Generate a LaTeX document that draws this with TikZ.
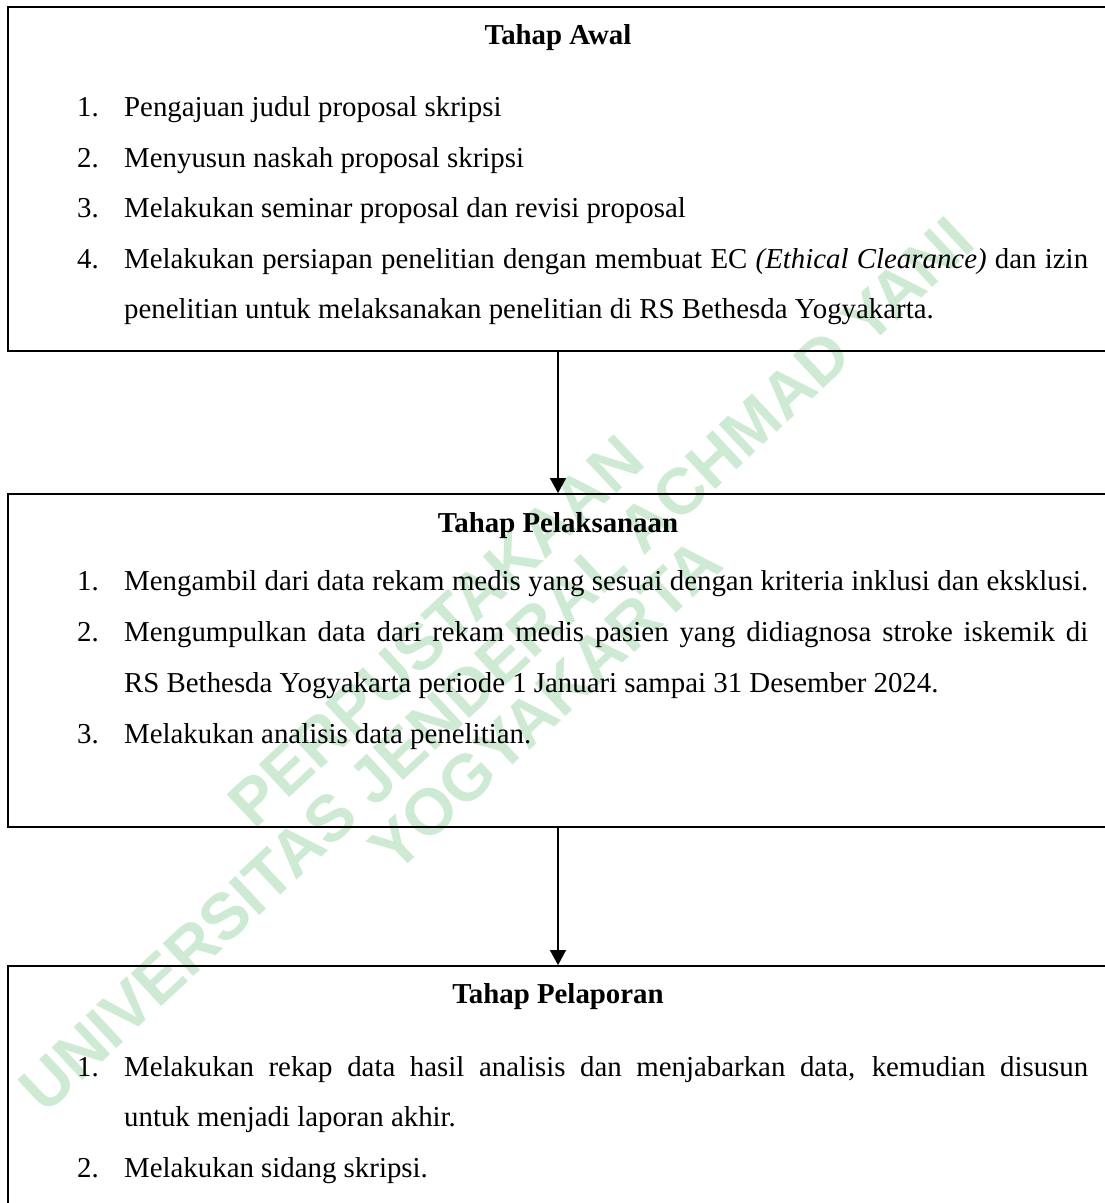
\documentclass[tikz,border=0pt]{standalone}
\usepackage{fontspec}
\setmainfont{Liberation Serif}
\newfontfamily\wmfont{Liberation Sans}
\usetikzlibrary{arrows.meta}
\definecolor{wmgreen}{RGB}{205,234,210}
\begin{document}
\begin{tikzpicture}[x=1pt,y=-1pt,
  box/.style={draw=black, line width=1.8pt, inner sep=0pt, minimum width=1100pt},
  txt/.style={anchor=base west, inner sep=0pt, font={\fontsize{28.85pt}{50pt}\selectfont}},
  head/.style={anchor=base, inner sep=0pt, font={\fontsize{28.85pt}{50pt}\selectfont\bfseries}},
  wm/.style={inner sep=0pt, text=wmgreen, font={\wmfont\bfseries\fontsize{65pt}{70pt}\selectfont}, rotate=43},
  conn/.style={line width=1.3pt, -{Triangle[width=16pt,length=15pt]}}]
\useasboundingbox (0,0) rectangle (1105,1203);
\clip (0,0) rectangle (1105,1203);
\fill[white] (0,0) rectangle (1105,1203);
% watermark
\node[wm] (w1) at (436,631) {PERPUSTAKAAN};
\node[wm] (w2) at (496,664) {UNIVERSITAS JENDERAL ACHMAD YANI};
\node[wm] (w3) at (545,705) {YOGYAKARTA};
% boxes
\node[box, minimum height=344pt] (b1) at (558,179) {};
\node[box, minimum height=333pt] (b2) at (558,660.5) {};
\node[box, minimum height=264pt] (b3) at (558,1098) {};
% connectors
\draw[conn] (b1.south) -- (b2.north);
\draw[conn] (b2.south) -- (b3.north);
% box 1 text
\node[head] (h1) at (558,44) {Tahap Awal};
\node[txt] (n11) at (77,116) {1.};
\node[txt] (t11) at (124,116) {Pengajuan judul proposal skripsi};
\node[txt] (n12) at (77,167) {2.};
\node[txt] (t12) at (124,167) {Menyusun naskah proposal skripsi};
\node[txt] (n13) at (77,217) {3.};
\node[txt] (t13) at (124,217) {Melakukan seminar proposal dan revisi proposal};
\node[txt] (n14) at (77,268) {4.};
\node[txt] (t14) at (124,268) {\makebox[964pt][s]{Melakukan persiapan penelitian dengan membuat EC \textit{(Ethical Clearance)} dan izin}};
\node[txt] (t14b) at (124,318) {penelitian untuk melaksanakan penelitian di RS Bethesda Yogyakarta.};
% box 2 text
\node[head] (h2) at (558,532) {Tahap Pelaksanaan};
\node[txt] (n21) at (77,590) {1.};
\node[txt] (t21) at (124,590) {\makebox[964pt][s]{Mengambil dari data rekam medis yang sesuai dengan kriteria inklusi dan eksklusi.}};
\node[txt] (n22) at (77,641) {2.};
\node[txt] (t22) at (124,641) {\makebox[964pt][s]{Mengumpulkan data dari rekam medis pasien yang didiagnosa stroke iskemik di}};
\node[txt] (t22b) at (124,692) {RS Bethesda Yogyakarta periode 1 Januari sampai 31 Desember 2024.};
\node[txt] (n23) at (77,743) {3.};
\node[txt] (t23) at (124,743) {Melakukan analisis data penelitian.};
% box 3 text
\node[head] (h3) at (558,1003) {Tahap Pelaporan};
\node[txt] (n31) at (77,1076) {1.};
\node[txt] (t31) at (124,1076) {\makebox[964pt][s]{Melakukan rekap data hasil analisis dan menjabarkan data, kemudian disusun}};
\node[txt] (t31b) at (124,1126) {untuk menjadi laporan akhir.};
\node[txt] (n32) at (77,1177) {2.};
\node[txt] (t32) at (124,1177) {Melakukan sidang skripsi.};
\end{tikzpicture}
\end{document}
